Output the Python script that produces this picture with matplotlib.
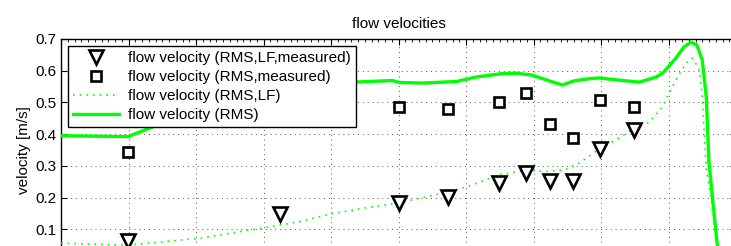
import numpy as np
import matplotlib
matplotlib.use("Agg")
import matplotlib.pyplot as plt
from matplotlib.ticker import AutoMinorLocator

plt.rcParams['font.family'] = ['Liberation Sans', 'DejaVu Sans']

# measured points
x_meas_lf = [0.99, 3.24, 5.0, 5.74, 6.49, 6.89, 7.25, 7.59, 7.99, 8.49]
v_meas_lf = [0.063, 0.148, 0.184, 0.201, 0.245, 0.278, 0.253, 0.253, 0.353, 0.413]

x_meas = [0.99, 5.0, 5.74, 6.49, 6.89, 7.25, 7.59, 7.99, 8.49]
v_meas = [0.343, 0.485, 0.478, 0.500, 0.531, 0.431, 0.389, 0.508, 0.485]

# RMS, low-frequency curve
x_lf = [0, 0.99, 2.06, 2.99, 3.54, 3.98, 4.50, 5.0, 5.74, 6.01, 6.49, 6.89, 7.16, 7.46,
        7.68, 7.99, 8.27, 8.49, 8.71, 8.91, 9.01, 9.11, 9.26, 9.35, 9.45, 9.50, 9.56,
        9.63, 9.72, 9.80]
v_lf = [0.056, 0.050, 0.072, 0.104, 0.124, 0.148, 0.167, 0.183, 0.218, 0.234, 0.271,
        0.287, 0.282, 0.287, 0.309, 0.355, 0.388, 0.419, 0.437, 0.486, 0.530, 0.571,
        0.624, 0.640, 0.608, 0.517, 0.287, 0.200, 0.050, -0.02]

# RMS curve
x_rms = [0, 0.99, 1.36, 1.69, 2.06, 2.80, 3.54, 4.32, 4.91, 5.01, 5.36, 5.86, 6.15,
         6.54, 6.75, 6.98, 7.23, 7.43, 7.60, 7.83, 7.97, 8.37, 8.57, 8.82, 8.93, 9.11,
         9.23, 9.33, 9.42, 9.50, 9.56, 9.60, 9.72, 9.78]
v_rms = [0.395, 0.392, 0.423, 0.49, 0.54, 0.558, 0.561, 0.564, 0.569, 0.563, 0.561,
         0.566, 0.580, 0.591, 0.592, 0.586, 0.568, 0.555, 0.568, 0.575, 0.577, 0.568,
         0.564, 0.580, 0.596, 0.640, 0.675, 0.690, 0.681, 0.634, 0.517, 0.309, 0.056,
         -0.01]

fig = plt.figure(figsize=(7.31, 2.46), dpi=100)
ax = fig.add_axes([61 / 731, -0.0609, 675 / 731, 0.9024])

ax.plot(x_meas_lf, v_meas_lf, linestyle='none', marker='v', markersize=9.5,
        markerfacecolor='white', markeredgecolor='black', markeredgewidth=1.9,
        label='flow velocity (RMS,LF,measured)', zorder=4)
ax.plot(x_meas, v_meas, linestyle='none', marker='s', markersize=6.5,
        markerfacecolor='white', markeredgecolor='black', markeredgewidth=1.9,
        label='flow velocity (RMS,measured)', zorder=4)
ax.plot(x_lf, v_lf, color='#00ff00', linestyle=(0, (1, 3)), linewidth=1.2,
        label='flow velocity (RMS,LF)', zorder=3)
ax.plot(x_rms, v_rms, color='#00ff00', linewidth=2.4,
        label='flow velocity (RMS)', zorder=3)

ax.set_xlim(0, 10)
ax.set_ylim(0, 0.7)
ax.set_xticks(np.arange(0, 11, 1))
ax.set_yticks(np.arange(0.1, 0.71, 0.1))
ax.set_yticklabels(['0.1', '0.2', '0.3', '0.4', '0.5', '0.6', '0.7'])
ax.xaxis.set_minor_locator(AutoMinorLocator(10))
ax.tick_params(which='both', direction='in', top=True, right=True, labelsize=11,
               labelbottom=False)
ax.tick_params(which='major', length=4)
ax.tick_params(which='minor', length=2)
ax.grid(True, which='major', linestyle=(0, (1, 4)), color='#555555', linewidth=0.7)
for s in ax.spines.values():
    s.set_linewidth(1.0)

ax.set_ylabel('velocity [m/s]', fontsize=11, labelpad=3)
ax.set_title('flow velocities', fontsize=11, pad=8)

leg = ax.legend(loc='upper left', bbox_to_anchor=(0.0104, 0.968), fontsize=11,
                fancybox=False, framealpha=1, edgecolor='black', handlelength=3.0,
                labelspacing=0.32, borderpad=0.35, borderaxespad=0, handletextpad=0.55)
leg.get_frame().set_linewidth(1.0)

fig.savefig('out.png', dpi=100)
